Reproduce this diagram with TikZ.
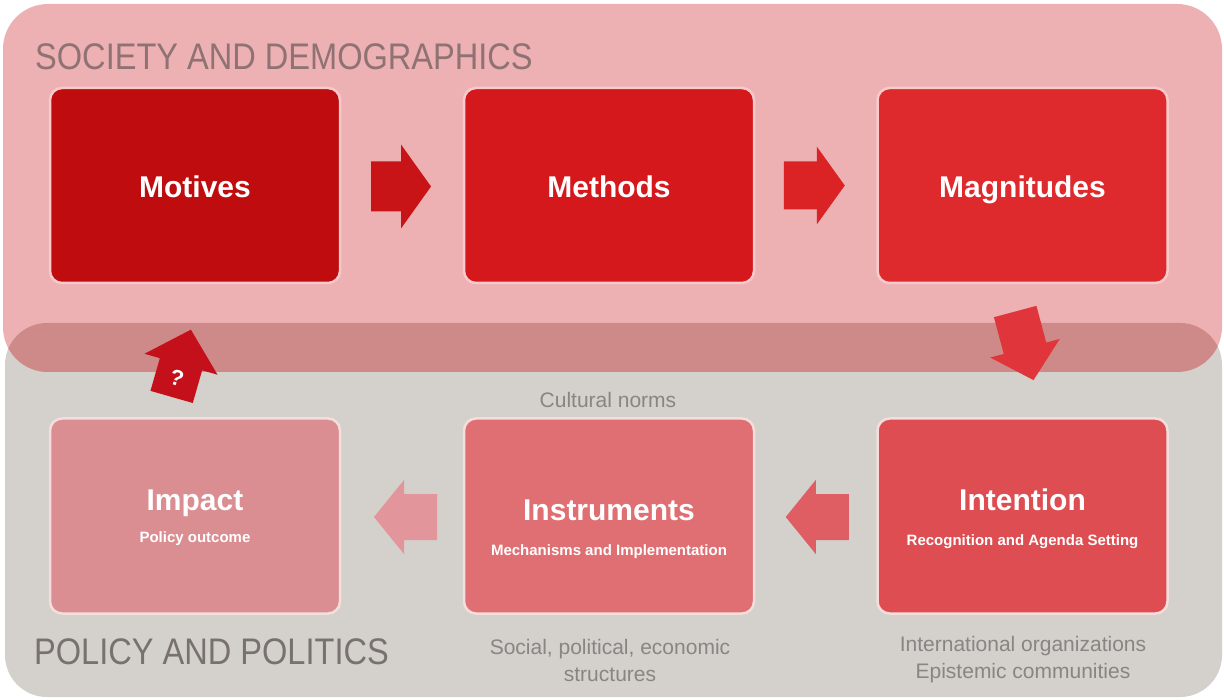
\documentclass[tikz,border=0pt]{standalone}
\usepackage{fontspec}
\setmainfont{Liberation Sans}
\newfontfamily\headfont[FakeStretch=0.88]{Liberation Sans}
\usetikzlibrary{calc}
\definecolor{topbg}{HTML}{EDB0B3}
\definecolor{botbg}{HTML}{D4D0CC}
\definecolor{overlap}{HTML}{CE8A89}
\definecolor{cMot}{HTML}{BF0D0F}
\definecolor{cMet}{HTML}{D5181B}
\definecolor{cMag}{HTML}{DE2A2D}
\definecolor{cInt}{HTML}{DD4D51}
\definecolor{cIns}{HTML}{E06F73}
\definecolor{cImp}{HTML}{DA8E92}
\definecolor{lineTop}{HTML}{F7CACB}
\definecolor{lineBot}{HTML}{F4DEDB}
\definecolor{headTop}{HTML}{8F7273}
\definecolor{headBot}{HTML}{787170}
\definecolor{noteGray}{HTML}{8A8483}
\definecolor{aA}{HTML}{C81417}
\definecolor{aB}{HTML}{DB2326}
\definecolor{aC}{HTML}{E0363B}
\definecolor{aD}{HTML}{DE5E63}
\definecolor{aE}{HTML}{E2959A}
\definecolor{aF}{HTML}{C4101A}
\begin{document}
\begin{tikzpicture}[x=1pt,y=-1pt,
  box/.style={rounded corners=12pt, line width=2.5pt, minimum width=290pt, minimum height=195pt, inner sep=0pt},
  topbox/.style={box, draw=lineTop},
  botbox/.style={box, draw=lineBot},
  title/.style={text=white, font=\fontsize{30}{34}\selectfont\bfseries, inner sep=0pt, text height=21.5pt, text depth=0pt},
  subtitle/.style={text=white, font=\fontsize{15}{18}\selectfont\bfseries, inner sep=0pt, text height=11pt, text depth=0pt},
  heading/.style={anchor=west, inner sep=0pt, font=\headfont\fontsize{37}{40}\selectfont},
  note/.style={text=noteGray, align=center, inner sep=0pt, font=\fontsize{21}{27}\selectfont},
  pics/barrow/.style n args={4}{code={
    \path[pic actions] (-#1,-#2) -- (0,-#2) -- (0,-#3) -- (#4,0) -- (0,#3) -- (0,#2) -- (-#1,#2) -- cycle;}}
]
\useasboundingbox (0,0) rectangle (1224,700);
% backgrounds
\fill[botbg, rounded corners=42pt] (5,323) rectangle (1222,697);
\fill[topbg, rounded corners=45pt] (3,4) rectangle (1222,372);
\begin{scope}
  \clip[rounded corners=42pt] (5,323) rectangle (1222,697);
  \fill[overlap, rounded corners=45pt] (3,4) rectangle (1222,372);
\end{scope}
% headings
\node[heading, text=headTop] (hsoc) at (35,56.5) {SOCIETY AND DEMOGRAPHICS};
\node[heading, text=headBot] (hpol) at (34,651.5) {POLICY AND POLITICS};
% boxes
\node[topbox, fill=cMot] (mot) at (195,185.5) {};
\node[topbox, fill=cMet] (met) at (609,185.5) {};
\node[topbox, fill=cMag] (mag) at (1022.5,185.5) {};
\node[botbox, fill=cImp] (imp) at (195,516) {};
\node[botbox, fill=cIns] (ins) at (609,516) {};
\node[botbox, fill=cInt] (int) at (1022.5,516) {};
% box texts
\node[title] (tmot) at ($(mot.center)+(0,1.5)$) {Motives};
\node[title] (tmet) at ($(met.center)+(0,1.5)$) {Methods};
\node[title] (tmag) at ($(mag.center)+(0,1.5)$) {Magnitudes};
\node[title] (timp) at ($(imp.center)+(0,-16)$) {Impact};
\node[subtitle] (simp) at ($(imp.center)+(0,21)$) {Policy outcome};
\node[title] (tins) at ($(ins.center)+(0,-6)$) {Instruments};
\node[subtitle] (sins) at ($(ins.center)+(0,34)$) {Mechanisms and Implementation};
\node[title] (tint) at ($(int.center)+(0,-16)$) {Intention};
\node[subtitle] (sint) at ($(int.center)+(0,24)$) {Recognition and Agenda Setting};
% notes
\node[note] (ncul) at (608,400) {Cultural norms};
\node[note] (nsoc) at (610,660) {Social, political, economic\\structures};
\node[note] (nint) at (1023,660) {International organizations\\Epistemic communities};
% block arrows
\coordinate (a1) at ($(mot.east)!0.5!(met.west)+(-1,1)$);
\coordinate (a2) at ($(met.east)!0.5!(mag.west)+(1,0)$);
\coordinate (a3) at ($(mag.south)!0.5!(int.north)+(2.5,-2.5)$);
\coordinate (a4) at ($(int.west)!0.5!(ins.east)+(0,1)$);
\coordinate (a5) at ($(ins.west)!0.5!(imp.east)+(2,1)$);
\coordinate (a6) at ($(imp.north)!0.5!(mot.south)+(-14,13.5)$);
\pic[fill=aA] at (a1) {barrow={30}{25}{42}{30}};
\pic[fill=aB] at (a2) {barrow={33}{24}{39}{28}};
\pic[fill=aC, rotate=-75] at (a3) {barrow={38}{22}{36}{33}};
\pic[fill=aD, rotate=180] at (a4) {barrow={33}{23}{37}{30}};
\pic[fill=aE, rotate=180] at (a5) {barrow={33}{23}{37}{30}};
\pic[fill=aF, rotate=74] at (a6) {barrow={34}{22}{38}{36}};
\node[text=white, inner sep=0pt, rotate=-16, font=\fontsize{22}{24}\selectfont\bfseries] (q) at ($(a6)+(-4,14)$) {?};
\end{tikzpicture}
\end{document}
